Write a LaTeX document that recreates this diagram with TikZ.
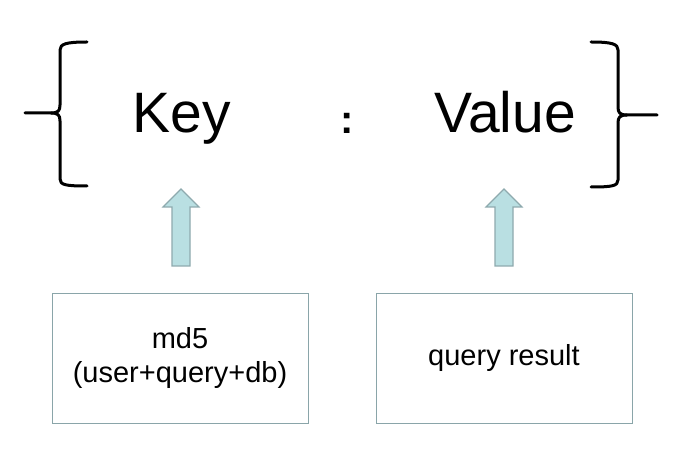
\documentclass[tikz,border=0pt]{standalone}
\usepackage{fontspec}
\setmainfont{Liberation Sans}
\begin{document}
\begin{tikzpicture}[x=1pt,y=-1pt,
  bigtext/.style={font=\fontsize{57}{60}\selectfont, inner sep=0pt, anchor=base},
  brace/.style={line width=3pt, line cap=round, line join=round},
  boxstyle/.style={draw=boxline, line width=1pt, minimum width=256pt, minimum height=129pt, inner sep=0pt, align=center, font=\fontsize{29}{34}\selectfont},
  blockarrow/.style={fill=arrowfill, draw=arrowline, line width=1.2pt, line join=miter}
]
\definecolor{boxline}{HTML}{8AA5A9}
\definecolor{arrowfill}{HTML}{B9DFE2}
\definecolor{arrowline}{HTML}{8EAAAE}
\useasboundingbox (0,0) rectangle (691,462);
\fill[white] (0,0) rectangle (691,462);

% texts
\node[bigtext] (key) at (182,133) {Key};
\node[bigtext, font=\fontsize{40}{44}\selectfont\bfseries] (colon) at (347,134) {:};
\node[bigtext] (value) at (505,133) {Value};

% braces
\draw[brace] (87,42) .. controls (66,42) and (60,44) .. (60,50) -- (60,105)
  .. controls (60,111) and (58,113) .. (51,113) -- (25,113);
\draw[brace] (51,113) .. controls (58,113) and (60,115) .. (60,121) -- (60,179)
  .. controls (60,185) and (66,186) .. (87,186);
\draw[brace] (591,42) .. controls (612,42) and (618,44) .. (618,50) -- (618,107)
  .. controls (618,113) and (620,115) .. (627,115) -- (657,115);
\draw[brace] (627,115) .. controls (620,115) and (618,117) .. (618,123) -- (618,180)
  .. controls (618,186) and (612,187) .. (591,187);

% boxes
\node[boxstyle] (md5) at (180,358.5) {md5\\(user+query+db)};
\node[boxstyle] (qr) at (504,358.5) {query result};

% block arrows
\coordinate (a1) at (181,189);
\coordinate (a2) at (504,189);
\foreach \c in {a1,a2}{
  \draw[blockarrow] (\c) -- ++(18,18) -- ++(-9,0) -- ++(0,59) -- ++(-18,0) -- ++(0,-59) -- ++(-9,0) -- cycle;
}
\end{tikzpicture}
\end{document}
